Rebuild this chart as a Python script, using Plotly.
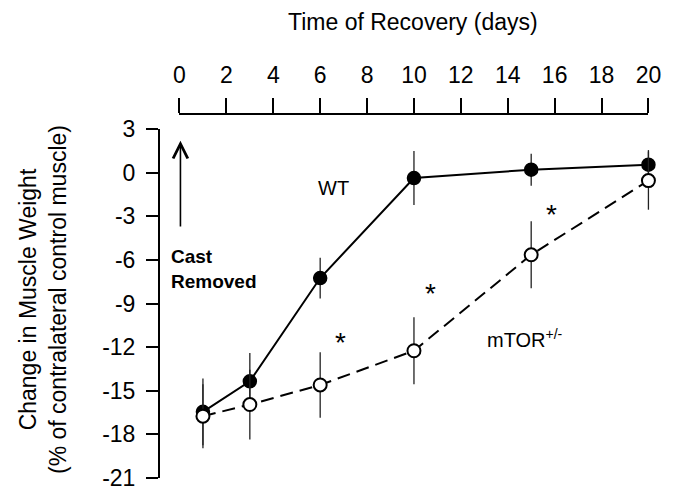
import plotly.graph_objects as go

days = [1, 3, 6, 10, 15, 20]
wt_mean = [-16.45, -14.35, -7.25, -0.37, 0.2, 0.55]
wt_err = [2.3, 1.95, 1.4, 1.85, 1.1, 1.0]
mtor_mean = [-16.75, -15.95, -14.6, -12.25, -5.65, -0.55]
mtor_err = [2.2, 2.4, 2.25, 2.3, 2.3, 2.0]
x_ticks = [0, 2, 4, 6, 8, 10, 12, 14, 16, 18, 20]
y_ticks = [3, 0, -3, -6, -9, -12, -15, -18, -21]
stars_x = [6.85, 10.7, 15.85]
stars_y = [-11.7, -8.3, -2.9]

FONT = "Arial, 'Liberation Sans', sans-serif"

W, H = 678, 500
L, R, T, B = 152, 8, 106, 30
pw = W - L - R
ph = H - T - B
px_per_day = (653 - 172) / 20.0
x_lo = (L - 172) / px_per_day
x_hi = (W - R - 172) / px_per_day
y_top_frac = (470 - 121) / ph

fig = go.Figure()

fig.add_trace(go.Scatter(
    x=days, y=wt_mean, mode="lines+markers",
    line=dict(color="black", width=2),
    marker=dict(size=13, color="black", line=dict(color="black", width=1.5)),
    error_y=dict(type="data", array=wt_err, visible=True, thickness=1.3, width=0, color="#222"),
    showlegend=False, xaxis="x", yaxis="y", cliponaxis=False,
))
fig.add_trace(go.Scatter(
    x=days, y=mtor_mean, mode="lines+markers",
    line=dict(color="black", width=2, dash="13px,7px"),
    marker=dict(size=13, color="white", line=dict(color="black", width=2)),
    error_y=dict(type="data", array=mtor_err, visible=True, thickness=1.3, width=0, color="#222"),
    showlegend=False, xaxis="x", yaxis="y", cliponaxis=False,
))
# helper so the top display axis is drawn
fig.add_trace(go.Scatter(
    x=x_ticks, y=[y_ticks[0]] * len(x_ticks), mode="markers",
    marker=dict(opacity=0), hoverinfo="skip", showlegend=False,
    xaxis="x2", yaxis="y",
))

annotations = []
for sx, sy in zip(stars_x, stars_y):
    annotations.append(dict(x=sx, y=sy, xref="x", yref="y", text="*", showarrow=False,
                            font=dict(family=FONT, size=28, color="black")))
annotations += [
    dict(x=6.57, y=-1.06, xref="x", yref="y", text="WT", showarrow=False,
         font=dict(family=FONT, size=20, color="black")),
    dict(x=14.72, y=-11.4, xref="x", yref="y", text="mTOR<sup>+/-</sup>", showarrow=False,
         font=dict(family=FONT, size=20, color="black")),
    dict(x=-0.45, y=-6.6, xref="x", yref="y", text="<b>Cast<br>Removed</b>", showarrow=False,
         xanchor="left", yanchor="middle", align="left",
         font=dict(family=FONT, size=19, color="black")),
    dict(x=0.04, y=2.2, xref="x", yref="y", ax=0.04, ay=-3.8, axref="x", ayref="y",
         text="", showarrow=True, arrowhead=5, arrowsize=1.8, arrowwidth=1.6, arrowcolor="black"),
    dict(x=(412 - L) / pw, y=(H - 14 - B) / ph, xref="paper", yref="paper",
         xanchor="center", yanchor="middle",
         text="Time of Recovery (days)", showarrow=False,
         font=dict(family=FONT, size=23, color="black")),
    dict(x=(32 - L) / pw, y=(470 - 292) / ph, xref="paper", yref="paper",
         xanchor="center", yanchor="middle",
         text="Change in Muscle Weight<br>(% of contralateral control muscle)",
         textangle=-90, showarrow=False,
         font=dict(family=FONT, size=23, color="black")),
]

fig.update_layout(
    width=W, height=H,
    margin=dict(l=L, r=R, t=T, b=B, pad=0),
    paper_bgcolor="white", plot_bgcolor="rgba(0,0,0,0)",
    font=dict(family=FONT, color="black"),
    xaxis=dict(domain=[0, 1], range=[x_lo, x_hi], visible=False, fixedrange=True),
    xaxis2=dict(domain=[(172 - L) / pw, (653 - L) / pw], range=[0, 20],
                anchor="free", position=1, side="top",
                tickmode="array", tickvals=x_ticks, ticktext=[str(v) for v in x_ticks],
                ticks="outside", ticklen=15, tickwidth=2, tickcolor="black",
                showline=True, linewidth=2, linecolor="black",
                showgrid=False, zeroline=False, ticklabelstandoff=6,
                tickfont=dict(family=FONT, size=23, color="black")),
    yaxis=dict(domain=[0, y_top_frac], range=[-21, 3],
               tickmode="array", tickvals=y_ticks, ticktext=[str(v) for v in y_ticks],
               ticks="outside", ticklen=12, tickwidth=2, tickcolor="black",
               showline=True, linewidth=2, linecolor="black",
               showgrid=False, zeroline=False, ticklabelstandoff=6,
               tickfont=dict(family=FONT, size=23, color="black")),
    annotations=annotations,
)

fig.write_html("out.html")
